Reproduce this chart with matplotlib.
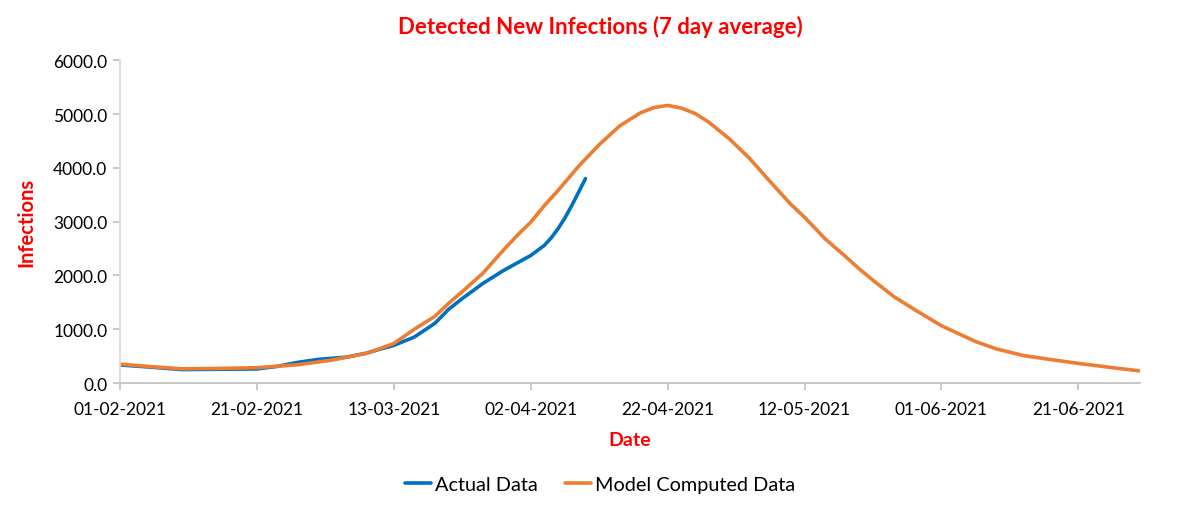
import pandas as pd
import matplotlib.pyplot as plt
import matplotlib.dates as mdates

plt.rcParams['font.family'] = ['Lato', 'DejaVu Sans']

# days counted from 01-02-2021
actual_days = [0, 4, 9, 14, 20, 23, 26, 29, 33, 36, 38, 40, 43, 46, 48, 50, 53, 56, 58, 60, 62, 63, 64, 65, 66, 67, 68]
actual_vals = [335, 300, 250, 255, 262, 310, 385, 440, 480, 555, 630, 700, 855, 1110, 1370, 1570, 1850, 2090, 2230,
               2370, 2560, 2700, 2870, 3070, 3300, 3550, 3800]

model_days = [0, 5, 9, 14, 20, 26, 31, 36, 38, 40, 43, 46, 48, 50, 53, 56, 58, 60, 62, 64, 67, 70, 73, 76, 78, 80,
              82, 84, 86, 89, 92, 95, 98, 100, 103, 106, 108, 110, 113, 116, 120, 125, 128, 132, 136, 140, 145, 149]
model_vals = [350, 300, 265, 270, 285, 340, 427, 552, 640, 735, 1000, 1240, 1480, 1700, 2040, 2470, 2740, 2990,
              3300, 3580, 4030, 4430, 4780, 5020, 5120, 5160, 5110, 5010, 4850, 4540, 4170, 3740, 3320, 3080,
              2680, 2350, 2120, 1910, 1610, 1370, 1065, 770, 635, 510, 436, 365, 285, 225]

start = pd.Timestamp('2021-02-01')
actual_dates = start + pd.to_timedelta(actual_days, unit='D')
model_dates = start + pd.to_timedelta(model_days, unit='D')
tick_dates = pd.date_range('2021-02-01', '2021-06-30', freq='20D')

fig = plt.figure(figsize=(12, 5.1), dpi=100)
ax = fig.add_axes([0.1, 0.247, 0.85, 0.633])

ax.plot(actual_dates, actual_vals, color='#0070C0', lw=2.6, label='Actual Data',
        solid_capstyle='round', solid_joinstyle='round')
ax.plot(model_dates, model_vals, color='#ED7D31', lw=2.6, label='Model Computed Data',
        solid_capstyle='round', solid_joinstyle='round')

ax.set_xlim(start, pd.Timestamp('2021-06-30'))
ax.set_ylim(0, 6000)
ax.set_yticks(range(0, 6001, 1000))
ax.set_yticklabels([f'{v:.1f}' for v in range(0, 6001, 1000)])
ax.set_xticks(tick_dates)
ax.xaxis.set_major_formatter(mdates.DateFormatter('%d-%m-%Y'))

for s in ['top', 'right']:
    ax.spines[s].set_visible(False)
ax.spines['left'].set_color('#D9D9D9')
ax.spines['bottom'].set_color('#BFBFBF')
ax.spines['left'].set_linewidth(1.2)
ax.spines['bottom'].set_linewidth(1.2)
ax.tick_params(axis='both', labelsize=12.5, colors='#BFBFBF', labelcolor='#000000', length=5, width=1.2)
ax.tick_params(axis='x', pad=8)
ax.tick_params(axis='y', pad=4)

fig.text(0.5, 0.947, 'Detected New Infections (7 day average)', color='#FF0000', fontsize=16,
         fontweight='bold', ha='center', va='center')
ax.set_xlabel('Date', color='#FF0000', fontsize=14, fontweight='bold', labelpad=10)
ax.set_ylabel('Infections', color='#FF0000', fontsize=14.5, fontweight='bold', labelpad=12)

fig.legend(loc='center', bbox_to_anchor=(0.5, 0.049), ncol=2, frameon=False, fontsize=14.3,
           handlelength=1.3, columnspacing=1.4, handletextpad=0.2)

fig.savefig('out.png', dpi=100)
